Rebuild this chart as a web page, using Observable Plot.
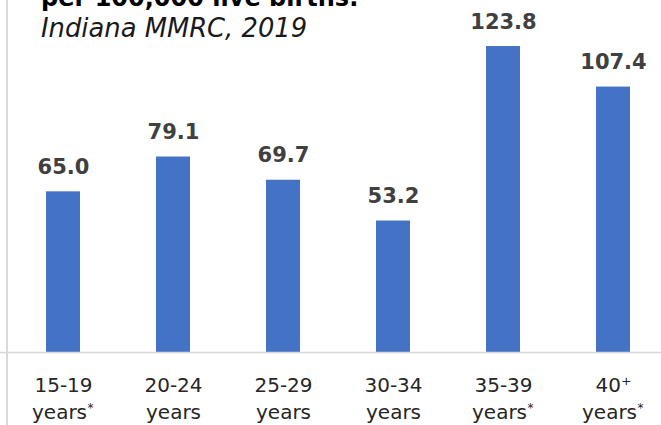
<!DOCTYPE html>
<html>
<head>
<meta charset="utf-8">
<script src="https://cdn.jsdelivr.net/npm/d3@7"></script>
<script src="https://cdn.jsdelivr.net/npm/@observablehq/plot@0.6"></script>
<style>
  html, body { margin: 0; padding: 0; background: #fff; overflow: hidden; }
  #wrap { position: relative; width: 661px; height: 425px; overflow: hidden; font-family: "DejaVu Sans", sans-serif; }
  #edge { position: absolute; left: 6px; top: 0; width: 2px; height: 425px; background: #d9d9d9; }
  #title { position: absolute; left: 41px; top: -14px; font-size: 24px; line-height: 24px; font-weight: 700; color: #000; white-space: nowrap; }
  #subtitle { position: absolute; left: 41px; top: 16px; font-size: 25.8px; line-height: 25.8px; font-style: italic; color: #1a1a1a; white-space: nowrap; }
  #chart { position: absolute; left: 0; top: 0; }
</style>
</head>
<body>
<div id="wrap">
  <div id="chart"></div>
  <div id="edge"></div>
  <div id="title">per 100,000 live births.</div>
  <div id="subtitle">Indiana MMRC, 2019</div>
</div>
<script>
// Pregnancy-associated mortality ratio by maternal age group
const ageGroups = ["15-19", "20-24", "25-29", "30-34", "35-39", "40+"];
const ageLine1 = ["15-19", "20-24", "25-29", "30-34", "35-39", "40\u207A"];
const ageLine2 = ["years", "years", "years", "years", "years", "years"];
const starred = [true, false, false, false, true, true];
const ratios = [65.0, 79.1, 69.7, 53.2, 123.8, 107.4];

const rows = ageGroups.map((g, i) => ({
  group: g, line1: ageLine1[i], line2: ageLine2[i], star: starred[i], ratio: ratios[i]
}));

const font = "'DejaVu Sans', sans-serif";
const labelColor = "#262626";

const chart = Plot.plot({
  width: 661,
  height: 425,
  margin: 0,
  style: { fontFamily: font, background: "transparent", overflow: "visible" },
  x: { domain: ageGroups, range: [7, 669], paddingInner: 0.69, paddingOuter: 0.345, axis: null },
  y: { domain: [0, 140], range: [352, 6], axis: null },
  marks: [
    Plot.barY(rows, { x: "group", y: "ratio", fill: "#4472C4" }),
    Plot.ruleY([0], { stroke: "#d9d9d9", strokeWidth: 1.5 }),
    // value labels above each bar
    Plot.text(rows, {
      x: "group", y: "ratio", text: d => d.ratio.toFixed(1),
      dy: -18, lineAnchor: "bottom", fontSize: 21, fontWeight: 700, fill: "#404040"
    }),
    // two-line category labels under the baseline
    Plot.text(rows, {
      x: "group", y: 0, text: "line1",
      dy: 25, lineAnchor: "top", fontSize: 20, fill: labelColor
    }),
    Plot.text(rows.filter(d => !d.star), {
      x: "group", y: 0, text: "line2",
      dy: 52, lineAnchor: "top", fontSize: 20, fill: labelColor
    }),
    Plot.text(rows.filter(d => d.star), {
      x: "group", y: 0, text: "line2",
      dx: -4, dy: 52, lineAnchor: "top", fontSize: 20, fill: labelColor
    }),
    // footnote markers
    Plot.text(rows.filter(d => d.star), {
      x: "group", y: 0, text: () => "*",
      dx: 24, dy: 51, textAnchor: "start", lineAnchor: "top", fontSize: 12, fill: labelColor
    })
  ]
});

document.getElementById("chart").appendChild(chart);
</script>
</body>
</html>
